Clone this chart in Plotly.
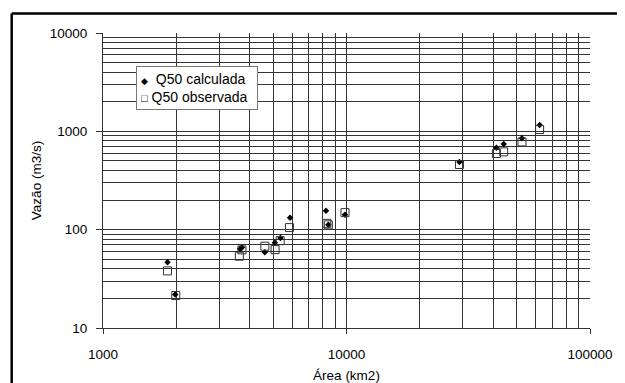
import plotly.graph_objects as go

# Data
area_calc = [1840, 1980, 3660, 3720, 4620, 5080, 5355, 5865, 8240, 8420, 9860,
             29100, 41270, 44210, 52550, 62090]
q50_calc = [46.7, 21.9, 63.7, 65.7, 59, 73.8, 82.4, 132, 156, 112, 142,
            489, 679, 745, 851, 1161]

area_obs = [1840, 1990, 3630, 3720, 4620, 5090, 5340, 5830, 8300, 8420, 9860,
            29100, 41270, 44210, 52550, 62090]
q50_obs = [38.1, 21.4, 53.7, 62.3, 67.9, 62.7, 77.3, 105, 116, 112, 149,
           460, 595, 618, 780, 1043]

x_ticks = [1000, 10000, 100000]
y_ticks = [10, 100, 1000, 10000]
series_names = ["Q50 calculada", "Q50 observada"]

OFF = 8  # page body margin
W, H = 625 - OFF, 383 - OFF
L, R, T, B = 102.5 - OFF, 590.5 - OFF, 32.5 - OFF, 328.3 - OFF
pw, ph = R - L, B - T

def px(x):
    return (x - OFF - L) / pw

def py(y):
    return 1 - (y - OFF - T) / ph

font = "Liberation Sans, Arial, sans-serif"
grid = "#333333"

fig = go.Figure()
fig.add_trace(go.Scatter(
    x=area_calc, y=q50_calc, mode="markers", name=series_names[0],
    marker=dict(symbol="diamond", size=5, color="black"),
))
fig.add_trace(go.Scatter(
    x=area_obs, y=q50_obs, mode="markers", name=series_names[1],
    marker=dict(symbol="square-open", size=8, color="#333333", line=dict(width=1)),
))

legend_text = (
    '<span style="font-size:9px">◆</span>  ' + series_names[0] + "<br>"
    + '<span style="font-size:11px">□</span> ' + series_names[1]
)

fig.update_layout(
    width=W, height=H,
    margin=dict(l=L, r=W - R, t=T, b=H - B, pad=0, autoexpand=False),
    paper_bgcolor="white", plot_bgcolor="white",
    font=dict(family=font, size=13.5, color="black"),
    showlegend=False,
    xaxis=dict(
        type="log", range=[3, 5], tickvals=x_ticks, ticktext=[str(v) for v in x_ticks],
        showgrid=True, gridcolor=grid, gridwidth=1,
        showline=True, linecolor=grid, linewidth=1,
        ticks="outside", ticklen=5, tickcolor=grid,
        minor=dict(showgrid=True, gridcolor=grid, gridwidth=1, dtick="D1", ticks=""),
        zeroline=False, ticklabelstandoff=9, automargin=False,
        title=dict(text="Área (km2)", standoff=9, font=dict(size=13.5)),
    ),
    yaxis=dict(
        type="log", range=[1, 4], tickvals=y_ticks, ticktext=[str(v) for v in y_ticks],
        showgrid=True, gridcolor=grid, gridwidth=1,
        showline=True, linecolor=grid, linewidth=1,
        ticks="outside", ticklen=6, tickcolor=grid,
        minor=dict(showgrid=True, gridcolor=grid, gridwidth=1, dtick="D1", ticks=""),
        zeroline=False, ticklabelstandoff=6, automargin=False,
        title=dict(text="Vazão (m3/s)", standoff=5, font=dict(size=13.5)),
    ),
    annotations=[
        dict(xref="paper", yref="paper", x=px(136), y=py(66),
             xanchor="left", yanchor="top", showarrow=False, align="left",
             text=legend_text, font=dict(size=14, family=font), width=112,
             bgcolor="white", bordercolor="#777777", borderwidth=1, borderpad=4),
    ],
    shapes=[
        dict(type="line", xref="paper", yref="paper", x0=px(11), x1=px(660),
             y0=py(13), y1=py(13), line=dict(color="black", width=2.5)),
        dict(type="line", xref="paper", yref="paper", x0=px(11), x1=px(11),
             y0=py(13), y1=py(420), line=dict(color="black", width=2.5)),
    ],
)

fig.write_html("out.html")
